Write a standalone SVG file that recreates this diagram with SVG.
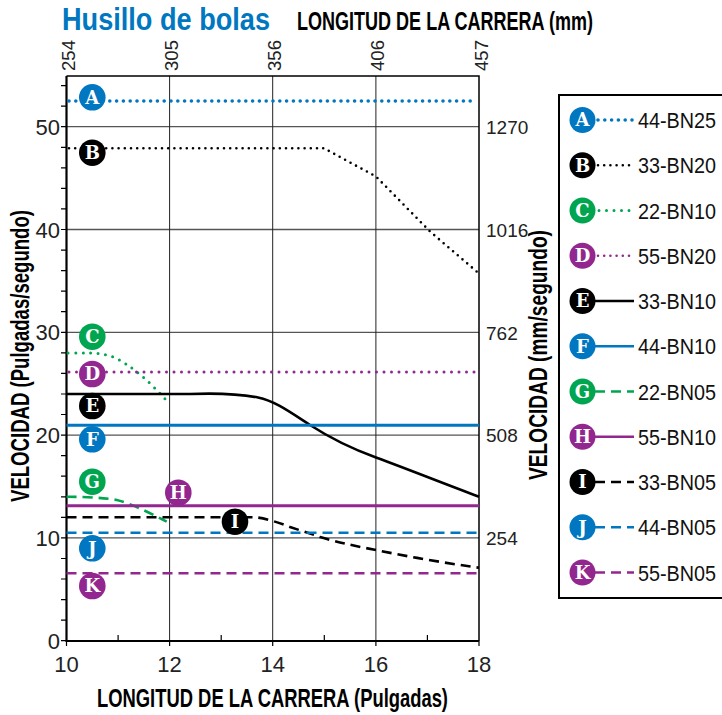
<svg xmlns="http://www.w3.org/2000/svg" width="722" height="715" viewBox="0 0 722 715">
<defs>
<style>
.t{font-family:"Liberation Sans",Arial,sans-serif;}
.b{font-family:"Liberation Sans",Arial,sans-serif;font-weight:bold;}
.tick{font-family:"Liberation Sans",Arial,sans-serif;font-size:22px;fill:#222;}
.rtick{font-family:"Liberation Sans",Arial,sans-serif;font-size:19px;fill:#222;}
.ltr{font-family:"DejaVu Serif","Liberation Serif",serif;font-weight:bold;font-size:18px;fill:#fff;text-anchor:middle;}
.leg{font-family:"Liberation Sans",Arial,sans-serif;font-size:22px;fill:#111;}
.grid{stroke:#555;stroke-width:1.3;fill:none;}
.vgrid{stroke:#222;stroke-width:1;fill:none;}
.ax{stroke:#000;fill:none;}
.blue{stroke:#0077C0;} .green{stroke:#00A550;} .purple{stroke:#92278F;} .black{stroke:#000;}
.fb{fill:#0077C0;} .fg{fill:#00A550;} .fp{fill:#92278F;} .fk{fill:#000;}
.dotA{stroke-width:3.6;stroke-dasharray:0 6.8;stroke-linecap:round;fill:none;}
.dotB{stroke-width:2.6;stroke-dasharray:0 6.2;stroke-linecap:round;fill:none;}
.dotC{stroke-width:3;stroke-dasharray:0 7.5;stroke-linecap:round;fill:none;}
.solid{stroke-width:2.6;fill:none;}
.solid3{stroke-width:3;fill:none;}
.dash{stroke-width:2.6;stroke-dasharray:10 6;fill:none;}
</style>
</defs>
<rect width="722" height="715" fill="#fff"/>

<!-- titles -->
<text class="b" x="62" y="29.5" font-size="32" fill="#0077C0" textLength="208" lengthAdjust="spacingAndGlyphs">Husillo de bolas</text>
<text class="b" x="297" y="30" font-size="25" fill="#000" textLength="296" lengthAdjust="spacingAndGlyphs">LONGITUD DE LA CARRERA (mm)</text>
<text class="b" x="97" y="707" font-size="26" fill="#000" textLength="351" lengthAdjust="spacingAndGlyphs">LONGITUD DE LA CARRERA (Pulgadas)</text>
<text class="b" transform="translate(28.5,502) rotate(-90)" font-size="25" fill="#000" textLength="292" lengthAdjust="spacingAndGlyphs">VELOCIDAD (Pulgadas/segundo)</text>
<text class="b" transform="translate(546.5,480) rotate(-90)" font-size="25" fill="#000" textLength="250" lengthAdjust="spacingAndGlyphs">VELOCIDAD (mm/segundo)</text>

<!-- grid -->
<g id="grid">
<path class="grid" d="M66.5,126.7H479M66.5,229.5H479M66.5,332.3H479M66.5,435.1H479M66.5,537.9H479"/>
<path class="vgrid" d="M169.6,76V641M272.7,76V641M375.9,76V641"/>
</g>

<!-- axes -->
<g id="axes">
<path class="ax" stroke-width="1.5" d="M66.5,76H479V641"/>
<path class="ax" stroke-width="2.2" d="M66.5,76V641H479"/>
<path class="ax" stroke-width="1.2" d="M61,640.7H66.5M61,620.1H66.5M61,599.6H66.5M61,579H66.5M61,558.5H66.5M61,537.9H66.5M61,517.3H66.5M61,496.8H66.5M61,476.2H66.5M61,455.7H66.5M61,435.1H66.5M61,414.5H66.5M61,394H66.5M61,373.4H66.5M61,352.9H66.5M61,332.3H66.5M61,311.7H66.5M61,291.2H66.5M61,270.6H66.5M61,250.1H66.5M61,229.5H66.5M61,208.9H66.5M61,188.4H66.5M61,167.8H66.5M61,147.3H66.5M61,126.7H66.5M61,106.1H66.5M61,85.6H66.5"/>
<path class="ax" stroke-width="1.2" d="M118.1,641V635M221.2,641V635M324.3,641V635M427.4,641V635M66.5,641V646M169.6,641V646M272.7,641V646M375.9,641V646M479,641V646"/>
</g>

<!-- tick labels -->
<g id="ticklabels">
<text class="tick" x="60" y="648.7" text-anchor="end">0</text>
<text class="tick" x="60" y="545.9" text-anchor="end">10</text>
<text class="tick" x="60" y="443.1" text-anchor="end">20</text>
<text class="tick" x="60" y="340.3" text-anchor="end">30</text>
<text class="tick" x="60" y="237.5" text-anchor="end">40</text>
<text class="tick" x="60" y="134.7" text-anchor="end">50</text>
<text class="tick" x="66.5" y="672" text-anchor="middle">10</text>
<text class="tick" x="169.6" y="672" text-anchor="middle">12</text>
<text class="tick" x="272.7" y="672" text-anchor="middle">14</text>
<text class="tick" x="375.9" y="672" text-anchor="middle">16</text>
<text class="tick" x="479" y="672" text-anchor="middle">18</text>
<text class="rtick" x="486" y="134" >1270</text>
<text class="rtick" x="486" y="236.8">1016</text>
<text class="rtick" x="486" y="339.6">762</text>
<text class="rtick" x="486" y="442.4">508</text>
<text class="rtick" x="486" y="545.2">254</text>
<text class="rtick" font-size="22" transform="translate(75,71) rotate(-90)" textLength="31" lengthAdjust="spacingAndGlyphs">254</text>
<text class="rtick" font-size="22" transform="translate(178.1,71) rotate(-90)" textLength="31" lengthAdjust="spacingAndGlyphs">305</text>
<text class="rtick" font-size="22" transform="translate(281.2,71) rotate(-90)" textLength="31" lengthAdjust="spacingAndGlyphs">356</text>
<text class="rtick" font-size="22" transform="translate(384.4,71) rotate(-90)" textLength="31" lengthAdjust="spacingAndGlyphs">406</text>
<text class="rtick" font-size="22" transform="translate(487.5,71) rotate(-90)" textLength="31" lengthAdjust="spacingAndGlyphs">457</text>
</g>

<!-- connectors / curves -->
<g id="curves">
<path class="blue dotA" d="M69,101H477"/>
<path class="black dotB" d="M69,148.3H324L376,176.5L430,231.5L479,273.5"/>
<path class="green dotC" d="M68,353C85,353 100,352 113,357C130,364 150,382 166,400"/>
<path class="purple dotC" stroke-dasharray="0 6.7" d="M69,372H477"/>
<path class="black solid" d="M66.5,394L190,394C215,393 240,394 258,397.5C275,401 290,412 310,425C330,438 350,448 376,457.5C410,470 445,484 479,496.7"/>
<path class="blue solid3" d="M66.5,425.3H479"/>
<path class="green dash" d="M66.5,496.7C90,497 105,498 116.7,500C130,503 150,513 166.7,521.7"/>
<path class="purple solid3" d="M66.5,505.7H479"/>
<path class="black dash" d="M66.5,517.3L255,517.3C265,518 280,523 290,527C305,532 315,535 320,537C340,543 360,547 376,550C410,557 445,563 479,567.7"/>
<path class="blue dash" d="M66.5,532.7H479"/>
<path class="purple dash" d="M66.5,573.3H479"/>
</g>

<!-- chart markers -->
<g id="mA"><circle cx="92.3" cy="97.3" r="13.3" class="fb"/><text class="ltr" x="92.3" y="103.6">A</text></g>
<g id="mB"><circle cx="92.3" cy="152.7" r="13.3" class="fk"/><text class="ltr" x="92.3" y="159">B</text></g>
<g id="mC"><circle cx="92.3" cy="336.7" r="13.3" class="fg"/><text class="ltr" x="92.3" y="343">C</text></g>
<g id="mD"><circle cx="92.3" cy="374" r="13.3" class="fp"/><text class="ltr" x="92.3" y="380.3">D</text></g>
<g id="mE"><circle cx="92.3" cy="406" r="13.3" class="fk"/><text class="ltr" x="92.3" y="412.3">E</text></g>
<g id="mF"><circle cx="92.3" cy="439.3" r="13.3" class="fb"/><text class="ltr" x="92.3" y="445.6">F</text></g>
<g id="mG"><circle cx="92.3" cy="481.7" r="13.3" class="fg"/><text class="ltr" x="92.3" y="488">G</text></g>
<g id="mH"><circle cx="178.3" cy="492.7" r="13.3" class="fp"/><text class="ltr" x="178.3" y="499">H</text></g>
<g id="mI"><circle cx="235" cy="521.7" r="13.3" class="fk"/><text class="ltr" x="235" y="528">I</text></g>
<g id="mJ"><circle cx="92.3" cy="548.3" r="13.3" class="fb"/><text class="ltr" x="92.3" y="554.6">J</text></g>
<g id="mK"><circle cx="92.3" cy="586" r="13.3" class="fp"/><text class="ltr" x="92.3" y="592.3">K</text></g>

<!-- legend -->
<g id="legend">
<path d="M722,95H559V598H722" fill="none" stroke="#000" stroke-width="2"/>
<g id="legA"><path class="blue dotA" d="M598,120H633"/><circle cx="582.5" cy="120" r="13" class="fb"/><text class="ltr" x="582.5" y="126.3">A</text><text class="leg" transform="translate(638,128) scale(0.9,1)">44-BN25</text></g>
<g id="legB"><path class="black dotB" d="M598,165.3H633"/><circle cx="582.5" cy="165.3" r="13" class="fk"/><text class="ltr" x="582.5" y="171.6">B</text><text class="leg" transform="translate(638,173.3) scale(0.9,1)">33-BN20</text></g>
<g id="legC"><path class="green dotC" stroke-width="2.6" stroke-dasharray="4 7" stroke-linecap="butt" d="M599,210.5H633"/><circle cx="582.5" cy="210.5" r="13" class="fg"/><text class="ltr" x="582.5" y="216.8">C</text><text class="leg" transform="translate(638,218.5) scale(0.9,1)">22-BN10</text></g>
<g id="legD"><path class="purple dotB" stroke-width="3" d="M598,255.8H633"/><circle cx="582.5" cy="255.8" r="13" class="fp"/><text class="ltr" x="582.5" y="262.1">D</text><text class="leg" transform="translate(638,263.8) scale(0.9,1)">55-BN20</text></g>
<g id="legE"><path class="black solid" d="M595,301H634"/><circle cx="582.5" cy="301" r="13" class="fk"/><text class="ltr" x="582.5" y="307.3">E</text><text class="leg" transform="translate(638,309) scale(0.9,1)">33-BN10</text></g>
<g id="legF"><path class="blue solid" d="M595,346.3H634"/><circle cx="582.5" cy="346.3" r="13" class="fb"/><text class="ltr" x="582.5" y="352.6">F</text><text class="leg" transform="translate(638,354.3) scale(0.9,1)">44-BN10</text></g>
<g id="legG"><path class="green dash" stroke-dasharray="9 6" d="M595,391.5H634"/><circle cx="582.5" cy="391.5" r="13" class="fg"/><text class="ltr" x="582.5" y="397.8">G</text><text class="leg" transform="translate(638,399.5) scale(0.9,1)">22-BN05</text></g>
<g id="legH"><path class="purple solid" d="M595,436.8H634"/><circle cx="582.5" cy="436.8" r="13" class="fp"/><text class="ltr" x="582.5" y="443.1">H</text><text class="leg" transform="translate(638,444.8) scale(0.9,1)">55-BN10</text></g>
<g id="legI"><path class="black dash" stroke-dasharray="9 6" d="M595,482H634"/><circle cx="582.5" cy="482" r="13" class="fk"/><text class="ltr" x="582.5" y="488.3">I</text><text class="leg" transform="translate(638,490) scale(0.9,1)">33-BN05</text></g>
<g id="legJ"><path class="blue dash" stroke-dasharray="9 6" d="M595,527.3H634"/><circle cx="582.5" cy="527.3" r="13" class="fb"/><text class="ltr" x="582.5" y="533.6">J</text><text class="leg" transform="translate(638,535.3) scale(0.9,1)">44-BN05</text></g>
<g id="legK"><path class="purple dash" stroke-dasharray="9 6" d="M595,572.5H634"/><circle cx="582.5" cy="572.5" r="13" class="fp"/><text class="ltr" x="582.5" y="578.8">K</text><text class="leg" transform="translate(638,580.5) scale(0.9,1)">55-BN05</text></g>
</g>
</svg>
